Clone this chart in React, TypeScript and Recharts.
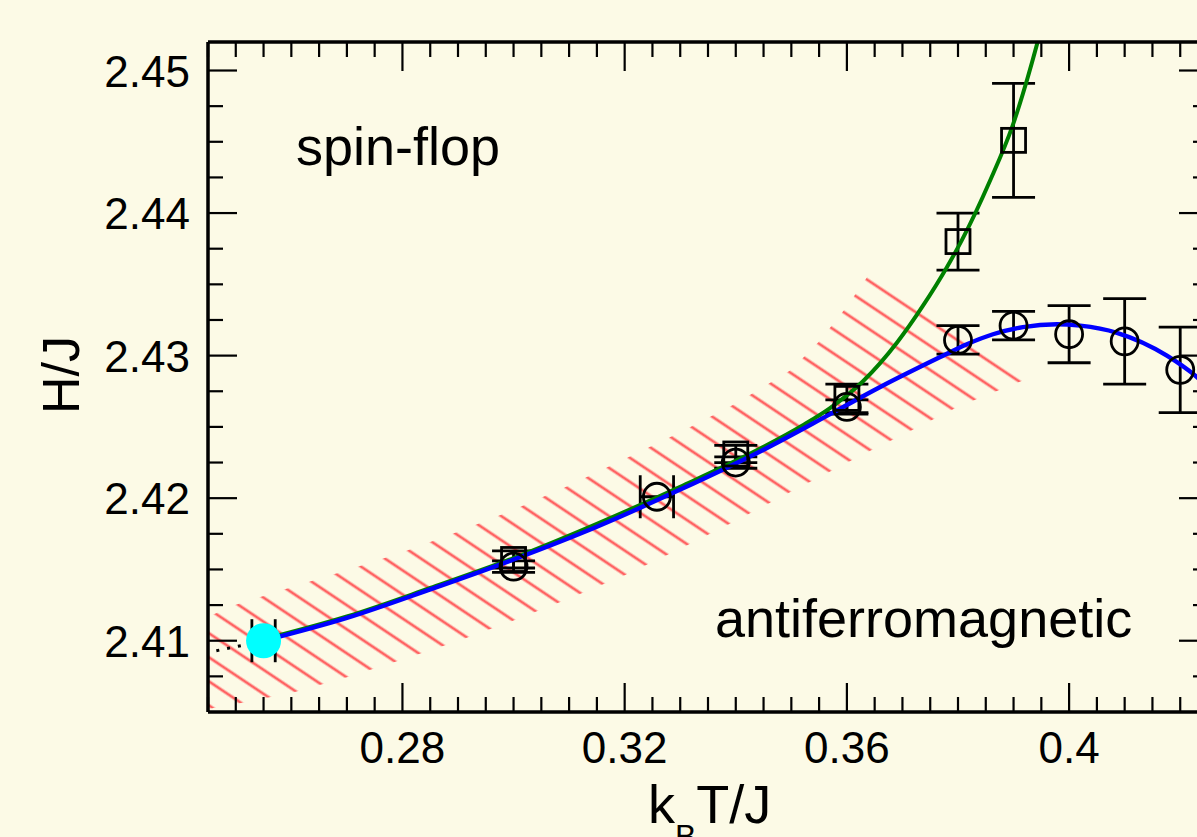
import { Area, ComposedChart, ErrorBar, Line, Scatter, XAxis, YAxis } from 'recharts'

// fitted phase boundaries (k_B T/J, H/J)
const greenT = [0.255, 0.27, 0.285, 0.3, 0.315, 0.33, 0.345, 0.352, 0.3569, 0.3629, 0.369, 0.3737, 0.378, 0.3807, 0.3858, 0.3898, 0.3944, 0.396]
const greenH = [2.4101, 2.4117, 2.4137, 2.4158, 2.4182, 2.4208, 2.4236, 2.4251, 2.4263, 2.4282, 2.4309, 2.4335, 2.4362, 2.4381, 2.4423, 2.4461, 2.4521, 2.4545]
const blueT = [0.255, 0.27, 0.285, 0.3, 0.315, 0.33, 0.345, 0.357, 0.366, 0.3768, 0.3816, 0.3863, 0.3917, 0.3978, 0.402, 0.4086, 0.4176, 0.423, 0.427]
const blueH = [2.41, 2.4116, 2.4136, 2.4157, 2.418, 2.4206, 2.4234, 2.4259, 2.4278, 2.4299, 2.4308, 2.4315, 2.432, 2.4322, 2.4321, 2.4316, 2.43, 2.4285, 2.427]

// hatched uncertainty band
const bandT = [0.245, 0.25, 0.26, 0.27, 0.28, 0.29, 0.3, 0.31, 0.32, 0.33, 0.34, 0.35, 0.355, 0.36, 0.365, 0.37, 0.38, 0.39, 0.394]
const bandLow = [2.40521, 2.40556, 2.40634, 2.40743, 2.40869, 2.40998, 2.41142, 2.41296, 2.4146, 2.41646, 2.41842, 2.42046, 2.42146, 2.42248, 2.42349, 2.42444, 2.42642, 2.428, 2.4286]
const bandHigh = [2.41169, 2.41252, 2.41375, 2.41494, 2.4162, 2.41765, 2.41918, 2.42089, 2.42275, 2.42463, 2.42664, 2.429, 2.43099, 2.43344, 2.43627, 2.43495, 2.43233, 2.42971, 2.4286]

// simulation points
const squareT = [0.3, 0.34, 0.36, 0.38, 0.39]
const squareH = [2.4157, 2.4231, 2.427, 2.438, 2.4451]
const squareErr = [0.0006, 0.0006, 0.001, 0.002, 0.004]
const circleT = [0.3, 0.34, 0.36, 0.38, 0.39, 0.4, 0.41, 0.42]
const circleH = [2.4152, 2.4225, 2.4264, 2.4311, 2.4321, 2.4315, 2.431, 2.429]
const circleErr = [0.0004, 0.0004, 0.0005, 0.001, 0.001, 0.002, 0.003, 0.003]
const circleTT = [0.3258]
const circleTH = [2.4201]
const circleTErr = [0.003]
const mcpT = [0.255]
const mcpH = [2.41]
const mcpErr = [0.0021]
const dotT = [0.2465, 0.2515]
const dotH = [2.4093, 2.4097]

const xMajor = [0.28, 0.32, 0.36, 0.4]
const yMajor = [2.41, 2.42, 2.43, 2.44, 2.45]
const xTicks = Array.from({ length: 37 }, (_, i) => +(0.245 + i * 0.005).toFixed(3))
const yTicks = Array.from({ length: 18 }, (_, i) => +(2.4075 + i * 0.0025).toFixed(4))

const FONT = '"Liberation Sans", Arial, Helvetica, sans-serif'
const BG = '#fcfae6'

const zip = (xs: number[], ys: number[], es?: number[]) =>
  xs.map((x, i) => ({ x, y: ys[i], err: es ? es[i] : 0 }))

const greenData = zip(greenT, greenH)
const blueData = zip(blueT, blueH)
const bandData = bandT.map((x, i) => ({ x, band: [bandLow[i], bandHigh[i]] }))
const squareData = zip(squareT, squareH, squareErr)
const circleData = zip(circleT, circleH, circleErr)
const circleTData = zip(circleTT, circleTH, circleTErr)
const mcpData = zip(mcpT, mcpH, mcpErr)
const dotData = zip(dotT, dotH)

const findMajor = (list: number[], v: number) => list.find((m) => Math.abs(m - v) < 1e-6)

function makeTick(side: 'bottom' | 'left' | 'top' | 'right', majors: number[]) {
  return (props: any) => {
    const { x, y, payload } = props
    const major = findMajor(majors, payload.value)
    const len = major !== undefined ? 29 : 15
    let line
    if (side === 'bottom') line = <line x1={x} y1={y} x2={x} y2={y - len} />
    else if (side === 'top') line = <line x1={x} y1={y} x2={x} y2={y + len} />
    else if (side === 'left') line = <line x1={x} y1={y} x2={x + len} y2={y} />
    else line = <line x1={x} y1={y} x2={x - len} y2={y} />
    let label = null
    if (major !== undefined && side === 'bottom') {
      label = (
        <text x={x} y={y + 51} textAnchor='middle' fontSize={44} fontFamily={FONT} fill='#000' stroke='none'>
          {String(major)}
        </text>
      )
    } else if (major !== undefined && side === 'left') {
      label = (
        <text x={x - 18} y={y + 16} textAnchor='end' fontSize={44} fontFamily={FONT} fill='#000' stroke='none'>
          {String(major)}
        </text>
      )
    }
    return (
      <g stroke='#000' strokeWidth={2.2}>
        {line}
        {label}
      </g>
    )
  }
}

const squareShape = (props: any) => (
  <rect x={props.cx - 12} y={props.cy - 12} width={24} height={24} fill='none' stroke='#000' strokeWidth={2.8} />
)
const circleShape = (props: any) => (
  <circle cx={props.cx} cy={props.cy} r={13.5} fill='none' stroke='#000' strokeWidth={2.8} />
)
const mcpShape = (props: any) => <circle cx={props.cx} cy={props.cy} r={17.5} fill='#00ffff' />

const axisLine = { stroke: '#000', strokeWidth: 3.5 }

export default function App() {
  return (
    <div style={{ width: 1197, height: 837, overflow: 'hidden', background: BG }}>
      <style>{`body{margin:0;background:${BG};}`}</style>
      <ComposedChart width={1218} height={837} margin={{ top: 32, right: 0, bottom: 0, left: 0 }}>
        <defs>
          <pattern id='hatch' patternUnits='userSpaceOnUse' width={20} height={20} patternTransform='rotate(33.8)'>
            <rect x={0} y={8.6} width={20} height={2.8} fill='#ff6262' />
          </pattern>
        </defs>
        <XAxis
          xAxisId={0}
          dataKey='x'
          type='number'
          domain={[0.245, 0.425]}
          allowDataOverflow
          ticks={xTicks}
          interval={0}
          height={125}
          tickSize={0}
          tickMargin={0}
          tickLine={false}
          axisLine={axisLine}
          tick={makeTick('bottom', xMajor)}
        />
        <XAxis
          xAxisId='top'
          orientation='top'
          dataKey='x'
          type='number'
          domain={[0.245, 0.425]}
          allowDataOverflow
          ticks={xTicks}
          interval={0}
          height={10}
          tickSize={0}
          tickMargin={0}
          tickLine={false}
          axisLine={axisLine}
          tick={makeTick('top', xMajor)}
        />
        <YAxis
          yAxisId={0}
          type='number'
          domain={[2.405, 2.452]}
          allowDataOverflow
          ticks={yTicks}
          interval={0}
          width={208}
          tickSize={0}
          tickMargin={0}
          tickLine={false}
          axisLine={axisLine}
          tick={makeTick('left', yMajor)}
        />
        <YAxis
          yAxisId='right'
          orientation='right'
          type='number'
          domain={[2.405, 2.452]}
          allowDataOverflow
          ticks={yTicks}
          interval={0}
          width={10}
          tickSize={0}
          tickMargin={0}
          tickLine={false}
          axisLine={axisLine}
          tick={makeTick('right', yMajor)}
        />
        <Area
          data={bandData}
          dataKey='band'
          type='linear'
          fill='url(#hatch)'
          fillOpacity={1}
          stroke='none'
          activeDot={false}
          isAnimationActive={false}
        />
        <Scatter data={squareData} dataKey='y' shape={squareShape} isAnimationActive={false}>
          <ErrorBar dataKey='err' direction='y' width={21.5} stroke='#000' strokeWidth={2.8} />
        </Scatter>
        <Scatter data={circleData} dataKey='y' shape={circleShape} isAnimationActive={false}>
          <ErrorBar dataKey='err' direction='y' width={21.5} stroke='#000' strokeWidth={2.8} />
        </Scatter>
        <Scatter data={circleTData} dataKey='y' shape={circleShape} isAnimationActive={false}>
          <ErrorBar dataKey='err' direction='x' width={21.5} stroke='#000' strokeWidth={2.8} />
        </Scatter>
        <Line data={dotData} dataKey='y' type='linear' stroke='#000' strokeWidth={3} strokeDasharray='3 8' dot={false} activeDot={false} isAnimationActive={false} />
        <Line data={greenData} dataKey='y' type='monotone' stroke='#008000' strokeWidth={4} dot={false} activeDot={false} isAnimationActive={false} />
        <Line data={blueData} dataKey='y' type='monotone' stroke='#0000ff' strokeWidth={4.4} dot={false} activeDot={false} isAnimationActive={false} />
        <Scatter data={mcpData} dataKey='y' shape={mcpShape} isAnimationActive={false}>
          <ErrorBar dataKey='err' direction='x' width={21.5} stroke='#000' strokeWidth={2.8} />
        </Scatter>
        <text x={296} y={165} fontSize={54} fontFamily={FONT} fill='#000'>spin-flop</text>
        <text x={715} y={637} fontSize={54} fontFamily={FONT} fill='#000'>antiferromagnetic</text>
        <text x={79} y={375} fontSize={52} fontFamily={FONT} fill='#000' textAnchor='middle' transform='rotate(-90 79 375)'>H/J</text>
        <text x={648} y={823} fontSize={54} fontFamily={FONT} fill='#000'>
          <tspan>k</tspan>
          <tspan fontSize={32} dy={24}>B</tspan>
          <tspan dy={-24}>T/J</tspan>
        </text>
      </ComposedChart>
    </div>
  )
}
